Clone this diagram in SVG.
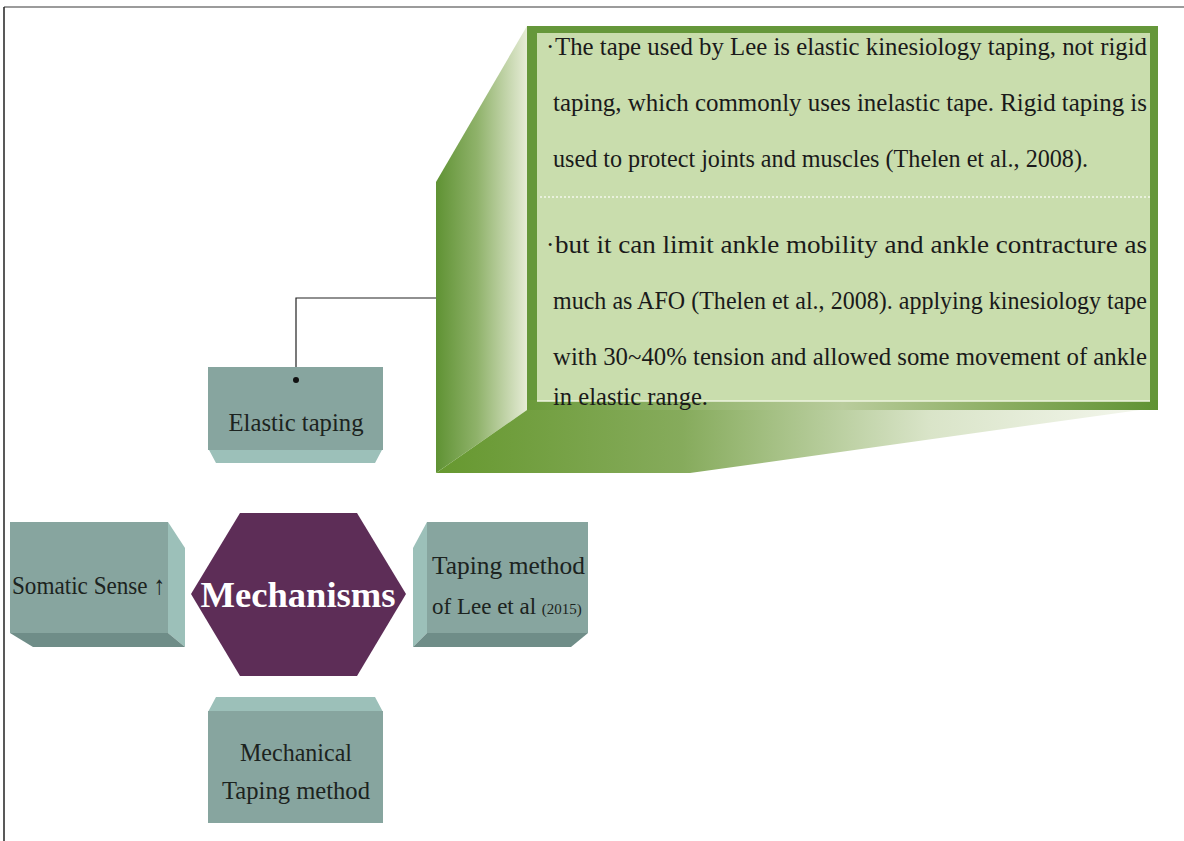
<svg xmlns="http://www.w3.org/2000/svg" width="1184" height="841" viewBox="0 0 1184 841">
<defs>
<linearGradient id="leftFace" x1="0" y1="0" x2="1" y2="0">
<stop offset="0" stop-color="#5f9233"/>
<stop offset="0.45" stop-color="#8fb26a"/>
<stop offset="1" stop-color="#e6ecd6"/>
</linearGradient>
<linearGradient id="bottomFace" x1="436" y1="0" x2="1140" y2="0" gradientUnits="userSpaceOnUse">
<stop offset="0" stop-color="#66982f"/>
<stop offset="0.35" stop-color="#86ab5c"/>
<stop offset="0.7" stop-color="#d9e4c8"/>
<stop offset="1" stop-color="#f3f6ec"/>
</linearGradient>
<linearGradient id="frameBottom" x1="527" y1="0" x2="1158" y2="0" gradientUnits="userSpaceOnUse">
<stop offset="0" stop-color="#6a9a3a"/>
<stop offset="0.5" stop-color="#b9cc9c"/>
<stop offset="0.75" stop-color="#8cae62"/>
<stop offset="1" stop-color="#5f9233"/>
</linearGradient>
<style>
.teal{fill:#87a59f}
.tealLight{fill:#9cc0b9}
.tealDark{fill:#6f8d88}
.node{font-family:"Liberation Serif",serif;font-size:26px;fill:#1c2320}
.lee2{font-size:23px}
.small{font-size:15px}
.panel{font-family:"Liberation Serif",serif;font-size:25px;fill:#1a1a1a}
.conn{stroke:#222;stroke-width:1.2;fill:none}
</style>
</defs>
<rect x="0" y="0" width="1184" height="841" fill="#ffffff"/>
<line x1="4" y1="7" x2="1184" y2="7" stroke="#7a7a7a" stroke-width="1.5"/>
<line x1="4" y1="7" x2="4" y2="841" stroke="#222" stroke-width="1.5"/>

<g id="detail-box">
<polygon points="527,26 436,182 436,473 527,410" fill="url(#leftFace)"/>
<polygon points="527,410 436,473 690,473 1140,410" fill="url(#bottomFace)"/>
<rect x="527" y="26" width="631" height="384" fill="#65973a"/>
<rect x="527" y="400" width="631" height="10" fill="url(#frameBottom)"/>
<rect x="537" y="33" width="613" height="368" fill="#c9ddad"/>
<line x1="537" y1="401" x2="1150" y2="401" stroke="#eef5e0" stroke-width="1.5"/>
<line x1="540" y1="197" x2="1150" y2="197" stroke="#f4f8ec" stroke-width="1.5" stroke-dasharray="2,2"/>
<text class="panel" x="546" y="55">·</text>
<text class="panel" x="555" y="55" textLength="592" lengthAdjust="spacingAndGlyphs">The tape used by Lee is elastic kinesiology taping, not rigid</text>
<text class="panel" x="553" y="111" textLength="594" lengthAdjust="spacingAndGlyphs">taping, which commonly uses inelastic tape. Rigid taping is</text>
<text class="panel" x="553" y="167" textLength="535" lengthAdjust="spacingAndGlyphs">used to protect joints and muscles (Thelen et al., 2008).</text>
<text class="panel" x="546" y="253">·</text>
<text class="panel" x="555" y="253" textLength="592" lengthAdjust="spacingAndGlyphs">but it can limit ankle mobility and ankle contracture as</text>
<text class="panel" x="553" y="309" textLength="594" lengthAdjust="spacingAndGlyphs">much as AFO (Thelen et al., 2008). applying kinesiology tape</text>
<text class="panel" x="553" y="365" textLength="594" lengthAdjust="spacingAndGlyphs">with 30~40% tension and allowed some movement of ankle</text>
<text class="panel" x="553" y="405" textLength="155" lengthAdjust="spacingAndGlyphs">in elastic range.</text>
</g>

<g id="connectors">
<polyline class="conn" points="296,380 296,298 436,298"/>
</g>

<g id="node-elastic">
<polygon class="tealLight" points="208,448 383,448 375,463 216,463"/>
<rect class="teal" x="208" y="367" width="175" height="83"/>
<circle cx="296" cy="380" r="3" fill="#111"/>
<text class="node" x="296" y="431" text-anchor="middle" textLength="135" lengthAdjust="spacingAndGlyphs">Elastic taping</text>
</g>

<g id="node-somatic">
<polygon class="tealLight" points="168,522 185,548 185,647 168,633"/>
<polygon class="tealDark" points="10,633 168,633 185,647 33,647"/>
<rect class="teal" x="10" y="522" width="158" height="111"/>
<text class="node" x="12" y="594" textLength="153" lengthAdjust="spacingAndGlyphs">Somatic Sense ↑</text>
</g>

<g id="node-mechanisms">
<polygon points="240,513 357,513 406,594 357,676 240,676 191,594" fill="#5d2d57"/>
<text x="298" y="607" text-anchor="middle" font-family="Liberation Serif, serif" font-weight="bold" font-size="36" fill="#ffffff" textLength="195" lengthAdjust="spacingAndGlyphs">Mechanisms</text>
</g>

<g id="node-lee">
<polygon class="tealLight" points="413,548 427,522 427,633 413,647"/>
<polygon class="tealDark" points="427,633 588,633 571,647 413,647"/>
<rect class="teal" x="427" y="522" width="161" height="111"/>
<text class="node" x="432" y="574" textLength="153" lengthAdjust="spacingAndGlyphs">Taping method</text>
<text class="node lee2" x="432" y="614">of Lee et al <tspan class="small">(2015)</tspan></text>
</g>

<g id="node-mechanical">
<polygon class="tealLight" points="216,697 375,697 383,712 208,712"/>
<rect class="teal" x="208" y="711" width="175" height="112"/>
<text class="node" x="296" y="761" text-anchor="middle" textLength="112" lengthAdjust="spacingAndGlyphs">Mechanical</text>
<text class="node" x="296" y="799" text-anchor="middle" textLength="148" lengthAdjust="spacingAndGlyphs">Taping method</text>
</g>
</svg>
